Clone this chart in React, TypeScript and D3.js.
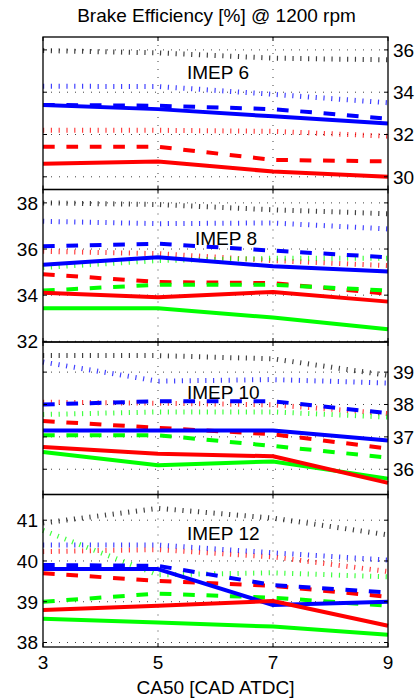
import * as d3 from 'd3';

const ca50 = [3, 5, 7, 9];
const imepLabels = ['IMEP 6', 'IMEP 8', 'IMEP 10', 'IMEP 12'];
const yDomains: [number, number][] = [
  [29.4, 36.61],
  [31.97, 38.58],
  [35.22, 39.93],
  [37.89, 41.63],
];
const yTickValues = [
  [30, 32, 34, 36],
  [32, 34, 36, 38],
  [36, 37, 38, 39],
  [38, 39, 40, 41],
];

// IMEP 6
const i6BlackDot = [35.97, 35.86, 35.61, 35.53];
const i6BlueDot = [34.28, 34.27, 33.9, 33.5];
const i6RedDot = [32.2, 32.2, 32.15, 31.92];
const i6BlueDash = [33.4, 33.36, 33.2, 32.75];
const i6RedDash = [31.42, 31.42, 30.8, 30.73];
const i6BlueSolid = [33.4, 33.2, 32.86, 32.52];
const i6RedSolid = [30.62, 30.72, 30.25, 30.0];

// IMEP 8
const i8BlackDot = [38.0, 37.93, 37.7, 37.53];
const i8BlueDot = [37.2, 37.1, 37.13, 36.87];
const i8RedDot = [35.9, 35.8, 35.5, 35.28];
const i8GreenDot = [35.2, 35.5, 35.6, 35.6];
const i8BlueDash = [36.12, 36.23, 35.93, 35.64];
const i8RedDash = [34.91, 34.57, 34.52, 34.06];
const i8GreenDash = [34.2, 34.45, 34.45, 34.2];
const i8BlueSolid = [35.32, 35.64, 35.25, 35.03];
const i8RedSolid = [34.11, 33.91, 34.14, 33.72];
const i8GreenSolid = [33.43, 33.43, 33.03, 32.52];

// IMEP 10
const i10BlackDot = [39.51, 39.51, 39.41, 38.9];
const i10BlueDot = [39.31, 38.72, 38.77, 38.66];
const i10RedDot = [38.07, 38.04, 37.99, 37.72];
const i10GreenDot = [37.69, 37.77, 37.77, 37.61];
const i10BlueDash = [38.0, 38.1, 38.1, 37.73];
const i10RedDash = [37.49, 37.28, 37.08, 36.64];
const i10GreenDash = [37.05, 37.05, 36.72, 36.36];
const i10BlueSolid = [37.2, 37.2, 37.2, 36.89];
const i10GreenSolid = [36.53, 36.12, 36.24, 35.71];
const i10RedSolid = [36.69, 36.48, 36.4, 35.58];

// IMEP 12
const i12BlackDot = [40.93, 41.29, 41.05, 40.64];
const i12GreenDot = [40.75, 39.66, 39.71, 39.61];
const i12BlueDot = [40.39, 40.39, 40.2, 40.02];
const i12RedDot = [40.23, 40.28, 40.1, 39.74];
const i12BlueDash = [39.9, 39.88, 39.41, 39.23];
const i12RedDash = [39.7, 39.51, 39.39, 39.12];
const i12GreenDash = [39.0, 39.2, 39.1, 38.9];
const i12GreenSolid = [38.58, 38.49, 38.39, 38.19];
const i12BlueSolid = [39.8, 39.8, 38.92, 39.0];
const i12RedSolid = [38.8, 38.9, 39.02, 38.41];

type Style = 'solid' | 'dash' | 'dot';
type Series = { values: number[]; color: string; style: Style };

const RED = '#ff0000';
const GREEN = '#00ff00';
const BLUE = '#0000ff';
const BLACK = '#000000';

const panelSeries: Series[][] = [
  [
    { values: i6BlackDot, color: BLACK, style: 'dot' },
    { values: i6BlueDot, color: BLUE, style: 'dot' },
    { values: i6RedDot, color: RED, style: 'dot' },
    { values: i6RedDash, color: RED, style: 'dash' },
    { values: i6BlueSolid, color: BLUE, style: 'solid' },
    { values: i6BlueDash, color: BLUE, style: 'dash' },
    { values: i6RedSolid, color: RED, style: 'solid' },
  ],
  [
    { values: i8BlackDot, color: BLACK, style: 'dot' },
    { values: i8BlueDot, color: BLUE, style: 'dot' },
    { values: i8RedDot, color: RED, style: 'dot' },
    { values: i8GreenDot, color: GREEN, style: 'dot' },
    { values: i8BlueDash, color: BLUE, style: 'dash' },
    { values: i8RedDash, color: RED, style: 'dash' },
    { values: i8GreenDash, color: GREEN, style: 'dash' },
    { values: i8BlueSolid, color: BLUE, style: 'solid' },
    { values: i8RedSolid, color: RED, style: 'solid' },
    { values: i8GreenSolid, color: GREEN, style: 'solid' },
  ],
  [
    { values: i10BlackDot, color: BLACK, style: 'dot' },
    { values: i10BlueDot, color: BLUE, style: 'dot' },
    { values: i10RedDot, color: RED, style: 'dot' },
    { values: i10GreenDot, color: GREEN, style: 'dot' },
    { values: i10RedDash, color: RED, style: 'dash' },
    { values: i10GreenDash, color: GREEN, style: 'dash' },
    { values: i10BlueDash, color: BLUE, style: 'dash' },
    { values: i10BlueSolid, color: BLUE, style: 'solid' },
    { values: i10GreenSolid, color: GREEN, style: 'solid' },
    { values: i10RedSolid, color: RED, style: 'solid' },
  ],
  [
    { values: i12BlackDot, color: BLACK, style: 'dot' },
    { values: i12GreenDot, color: GREEN, style: 'dot' },
    { values: i12RedDot, color: RED, style: 'dot' },
    { values: i12BlueDot, color: BLUE, style: 'dot' },
    { values: i12RedDash, color: RED, style: 'dash' },
    { values: i12GreenDash, color: GREEN, style: 'dash' },
    { values: i12BlueDash, color: BLUE, style: 'dash' },
    { values: i12GreenSolid, color: GREEN, style: 'solid' },
    { values: i12BlueSolid, color: BLUE, style: 'solid' },
    { values: i12RedSolid, color: RED, style: 'solid' },
  ],
];

const W = 417;
const H = 698;
const plotLeft = 43;
const plotRight = 388;
const plotTop = 37;
const plotBottom = 647;
const panelH = (plotBottom - plotTop) / 4;
const font = '"Liberation Sans", Arial, Helvetica, sans-serif';
const fs = 19;
// where each IMEP label sits: left x, baseline below panel top
const labelPos = [
  [187, 41.5],
  [195, 55],
  [187, 57],
  [187, 45],
];

function Panel({ idx }: { idx: number }) {
  const top = plotTop + idx * panelH;
  const bottom = top + panelH;
  const x = d3.scaleLinear().domain([3, 9]).range([plotLeft, plotRight]);
  const y = d3.scaleLinear().domain(yDomains[idx]).range([bottom, top]);
  const right = idx % 2 === 0;
  const line = d3
    .line<number>()
    .x((_, i) => x(ca50[i]))
    .y((d) => y(d));

  return (
    <g>
      {/* grid */}
      {yTickValues[idx].map((t) => (
        <line
          key={'gy' + t}
          x1={plotLeft}
          x2={plotRight}
          y1={y(t)}
          y2={y(t)}
          stroke="#000"
          strokeWidth={1}
          strokeDasharray="1 7"
          opacity={0.75}
        />
      ))}
      {ca50.slice(1, -1).map((t) => (
        <line
          key={'gx' + t}
          x1={x(t)}
          x2={x(t)}
          y1={top}
          y2={bottom}
          stroke="#000"
          strokeWidth={1}
          strokeDasharray="1 7"
          opacity={0.75}
        />
      ))}
      {/* series */}
      {panelSeries[idx].map((s, i) => (
        <path
          key={i}
          d={line(s.values) ?? ''}
          fill="none"
          stroke={s.color}
          strokeWidth={s.style === 'dot' ? 5 : 4}
          strokeDasharray={s.style === 'dash' ? '11.7 11.7' : s.style === 'dot' ? '1.2 6.6' : undefined}
          strokeOpacity={s.style === 'dot' ? 0.75 : 1}
          strokeLinecap="butt"
          strokeLinejoin="round"
        />
      ))}
      {/* ticks */}
      {yTickValues[idx].map((t) => (
        <g key={'ty' + t}>
          <line x1={plotLeft} x2={plotLeft + 4} y1={y(t)} y2={y(t)} stroke="#000" />
          <line x1={plotRight - 4} x2={plotRight} y1={y(t)} y2={y(t)} stroke="#000" />
          <text
            x={right ? plotRight + 5 : plotLeft - 5}
            y={y(t) + 6.8}
            textAnchor={right ? 'start' : 'end'}
            fontFamily={font}
            fontSize={fs}
          >
            {t}
          </text>
        </g>
      ))}
      {ca50.map((t) => (
        <g key={'tx' + t}>
          <line x1={x(t)} x2={x(t)} y1={top} y2={top + 4} stroke="#000" />
          <line x1={x(t)} x2={x(t)} y1={bottom - 4} y2={bottom} stroke="#000" />
        </g>
      ))}
      <rect
        x={plotLeft}
        y={top}
        width={plotRight - plotLeft}
        height={panelH}
        fill="none"
        stroke="#000"
        strokeWidth={1.3}
      />
      <text x={labelPos[idx][0]} y={top + labelPos[idx][1]} fontFamily={font} fontSize={fs}>
        {imepLabels[idx]}
      </text>
    </g>
  );
}

export default function App() {
  const x = d3.scaleLinear().domain([3, 9]).range([plotLeft, plotRight]);
  return (
    <svg
      width={W}
      height={H}
      style={{ position: 'absolute', left: 0, top: 0, background: '#fff' }}
    >
      <text x={216.5} y={21.5} textAnchor="middle" fontFamily={font} fontSize={fs}>
        Brake Efficiency [%] @ 1200 rpm
      </text>
      {[0, 1, 2, 3].map((i) => (
        <Panel key={i} idx={i} />
      ))}
      {ca50.map((t) => (
        <text key={t} x={x(t)} y={669} textAnchor="middle" fontFamily={font} fontSize={fs}>
          {t}
        </text>
      ))}
      <text x={215.5} y={694} textAnchor="middle" fontFamily={font} fontSize={fs}>
        CA50 [CAD ATDC]
      </text>
    </svg>
  );
}
